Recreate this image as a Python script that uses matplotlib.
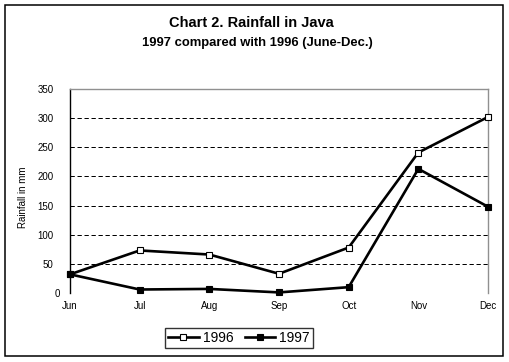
import matplotlib
matplotlib.use("Agg")
import matplotlib.pyplot as plt
from matplotlib.patches import Rectangle
from matplotlib.transforms import ScaledTranslation

months = ["Jun", "Jul", "Aug", "Sep", "Oct", "Nov", "Dec"]
rain_1996 = [32, 73, 66, 33, 78, 241, 302]
rain_1997 = [32, 6, 7, 1, 10, 213, 148]
y_ticks = [0, 50, 100, 150, 200, 250, 300, 350]

plt.rcParams['font.family'] = ['Liberation Sans', 'DejaVu Sans']

fig = plt.figure(figsize=(5.10, 3.62), dpi=100)
fig.patch.set_facecolor('white')

# outer frame
fig.patches.append(Rectangle((5/510, 6/362), 498/510, 351/362, transform=fig.transFigure,
                             fill=False, edgecolor='black', linewidth=1.1))

ax = fig.add_axes([70/510, 69/362, 418/510, 204/362])
x = list(range(len(months)))

ax.set_xlim(0, len(months) - 1)
ax.set_ylim(0, 350)
ax.set_yticks(y_ticks)
ax.set_yticklabels([str(v) for v in y_ticks], fontsize=7)
ax.set_xticks(x)
ax.set_xticklabels(months, fontsize=7)
ax.tick_params(axis='both', length=0)
ax.tick_params(axis='y', pad=12)
ax.tick_params(axis='x', pad=6)

# the "0" label sits further right in the reference
zero_lbl = ax.get_yticklabels()[0]
zero_lbl.set_transform(zero_lbl.get_transform() + ScaledTranslation(7/100, 0, fig.dpi_scale_trans))

for t in y_ticks[1:-1]:
    ax.axhline(t, color='black', linewidth=0.72, linestyle=(0, (4.3, 2.7)), zorder=1)

ax.spines['bottom'].set_visible(False)
ax.spines['left'].set_color('black')
ax.spines['left'].set_linewidth(1.0)
ax.spines['top'].set_color('#909090')
ax.spines['right'].set_color('#909090')
ax.spines['top'].set_linewidth(1.0)
ax.spines['right'].set_linewidth(1.0)

l1, = ax.plot(x, rain_1996, color='black', linewidth=1.9, marker='s', markersize=5,
              markerfacecolor='white', markeredgecolor='black', markeredgewidth=0.8,
              label='1996', zorder=3, clip_on=False)
l2, = ax.plot(x, rain_1997, color='black', linewidth=1.9, marker='s', markersize=5,
              markerfacecolor='black', markeredgecolor='black', markeredgewidth=0.8,
              label='1997', zorder=3, clip_on=False)

ax.set_ylabel("Rainfall in mm", fontsize=7)
ax.yaxis.set_label_coords(-0.1005, 0.47)

fig.text(0.492, 0.9365, "Chart 2. Rainfall in Java", ha='center', va='center',
         fontsize=10.5, fontweight='bold')
fig.text(0.504, 0.881, "1997 compared with 1996 (June-Dec.)", ha='center', va='center',
         fontsize=9.4, fontweight='bold')

leg = fig.legend(handles=[l1, l2], loc='center', bbox_to_anchor=(239/510, 1 - 338/362),
                 ncol=2, fontsize=10, frameon=True, fancybox=False, handlelength=2.2,
                 handletextpad=0.3, columnspacing=0.8, borderpad=0.25, borderaxespad=0)
leg.get_frame().set_edgecolor('black')
leg.get_frame().set_linewidth(1.0)

fig.savefig("out.png", dpi=100)
